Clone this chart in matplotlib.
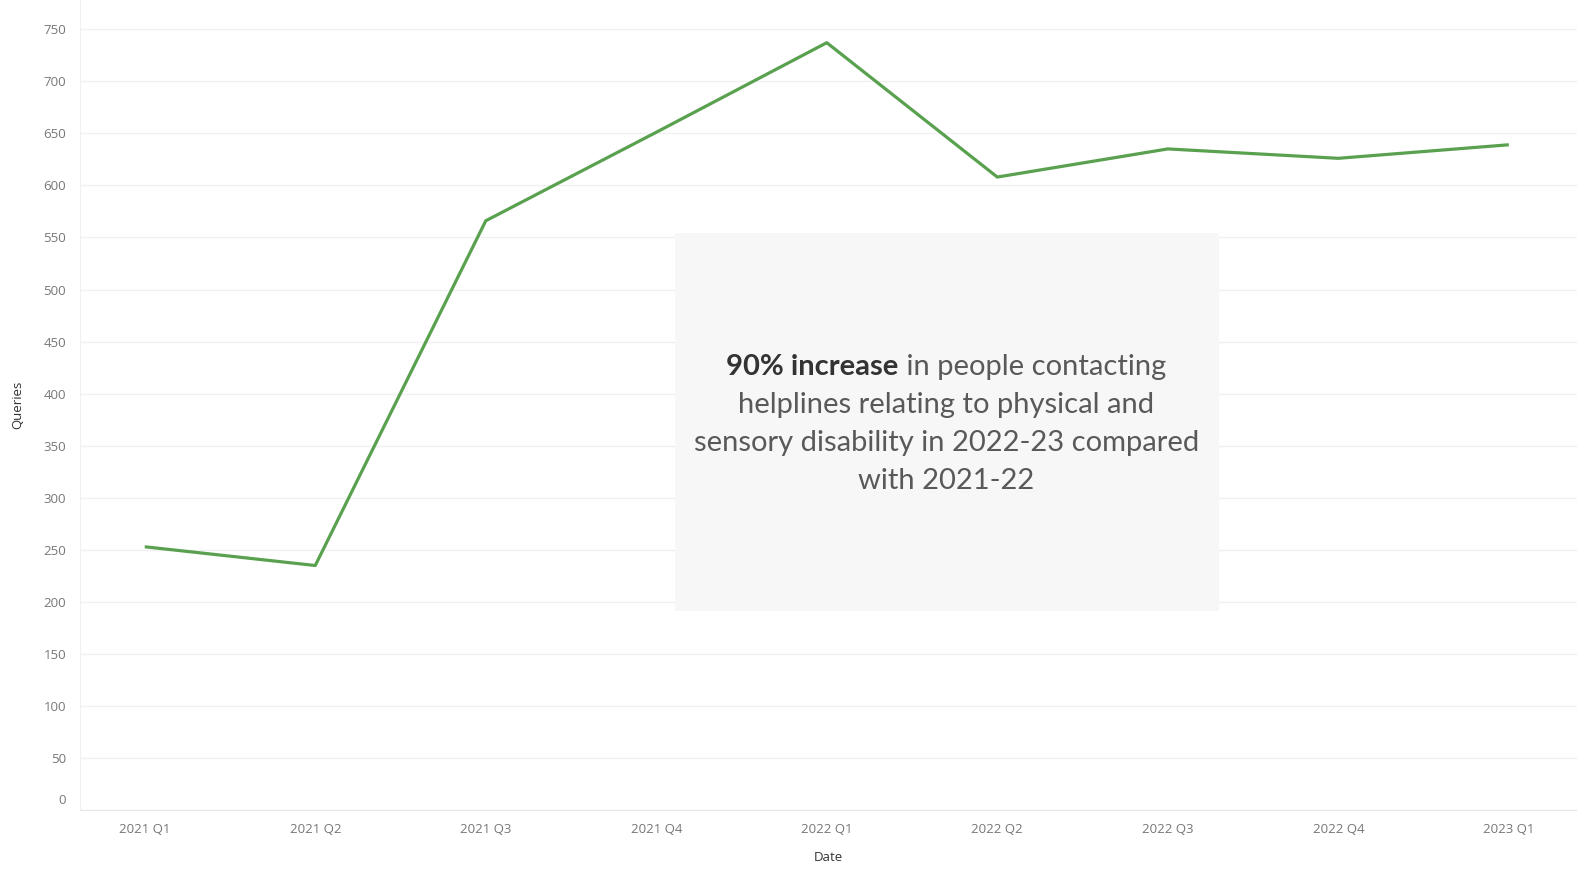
import matplotlib.pyplot as plt
import matplotlib.transforms as mtransforms

# Quarterly helpline queries (physical and sensory disability)
quarters = ["2021 Q1", "2021 Q2", "2021 Q3", "2021 Q4", "2022 Q1",
            "2022 Q2", "2022 Q3", "2022 Q4", "2023 Q1"]
queries = [253, 235, 566, 651, 737, 608, 635, 626, 639]
y_ticks = list(range(0, 751, 50))

font = "Open Sans"
fig = plt.figure(figsize=(15.77, 8.69), dpi=100)
ax = fig.add_axes([0.0507, 0.0676, 0.9493, 0.9324])

x = list(range(len(quarters)))
ax.plot(x, queries, color="#59a14f", linewidth=2.3, solid_capstyle="butt", zorder=3)

ax.set_xlim(-0.38, 8.40)
ax.set_ylim(0, 778)

# grid and frame
ax.set_yticks(y_ticks)
ax.yaxis.grid(True, color="#f0f0f0", linewidth=1)
ax.set_axisbelow(True)
for s in ["top", "right"]:
    ax.spines[s].set_visible(False)
ax.spines["left"].set_color("#f0f0f0")
ax.spines["bottom"].set_color("#e6e6e6")

ax.set_xticks(x)
ax.set_xticklabels(quarters, fontfamily=font, fontsize=9.5, color="#777777")
ax.set_yticklabels([str(v) for v in y_ticks], fontfamily=font, fontsize=9.5, color="#777777")
ax.tick_params(length=0, pad=9)
ax.tick_params(axis="y", pad=10)

# lift the zero label a little off the baseline
zero_lbl = ax.get_yticklabels()[0]
zero_lbl.set_transform(zero_lbl.get_transform() +
                       mtransforms.ScaledTranslation(0, 8 / 72, fig.dpi_scale_trans))

ax.set_xlabel("Date", fontfamily=font, fontsize=9.5, color="#333333", labelpad=11)
ax.set_ylabel("Queries", fontfamily=font, fontsize=9.5, color="#333333", labelpad=14)

# annotation panel
ax.add_patch(plt.Rectangle((3.11, 191), 3.19, 363, facecolor="#f7f7f7",
                           edgecolor="none", zorder=2))

cx = 4.70
fs = 21
gray = "#595959"
fig.canvas.draw()
r = fig.canvas.get_renderer()
t1 = ax.text(0, 0, "90% increase", fontfamily="Lato", fontweight="bold",
             fontsize=fs, color="#333333")
t2 = ax.text(0, 0, " in people contacting", fontfamily="Lato",
             fontsize=fs, color=gray)
w1 = t1.get_window_extent(r).width
w2 = t2.get_window_extent(r).width
inv = ax.transData.inverted()
y1 = 426
px_c, py = ax.transData.transform((cx, y1))
left = inv.transform((px_c - (w1 + w2) / 2, py))[0]
mid = inv.transform((px_c - (w1 + w2) / 2 + w1, py))[0]
t1.set_position((left, y1))
t2.set_position((mid, y1))
for t in (t1, t2):
    t.set_va("center")
    t.set_zorder(4)

lines = ["helplines relating to physical and",
         "sensory disability in 2022-23 compared",
         "with 2021-22"]
for i, s in enumerate(lines):
    ax.text(cx, y1 - 36.5 * (i + 1), s, fontfamily="Lato", fontsize=fs,
            color=gray, ha="center", va="center", zorder=4)

fig.savefig("out.png", dpi=100)
